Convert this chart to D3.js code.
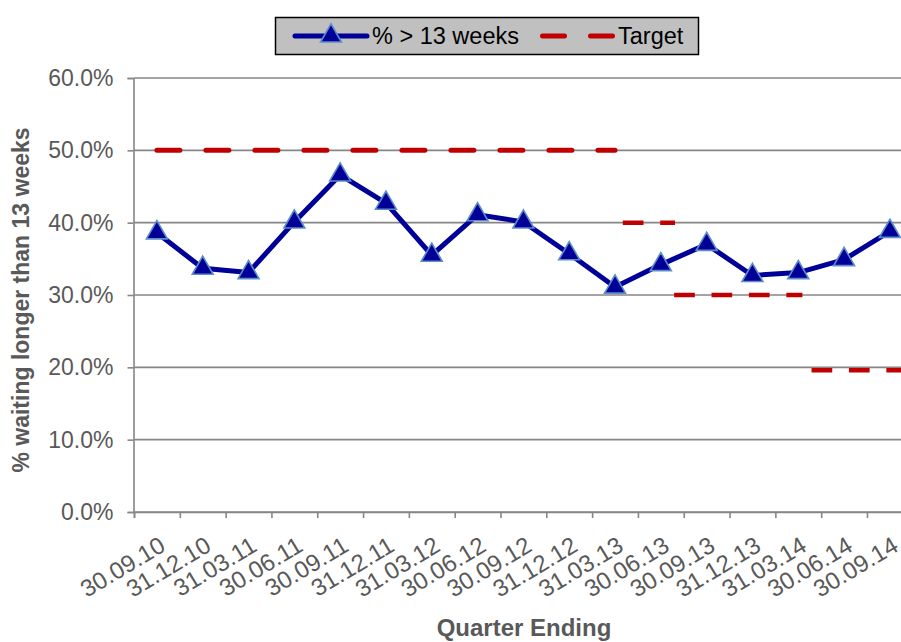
<!DOCTYPE html>
<html>
<head>
<meta charset="utf-8">
<script src="https://cdnjs.cloudflare.com/ajax/libs/d3/7.8.5/d3.min.js"></script>
<style>
  body { margin: 0; background: #fff; }
  svg { display: block; font-family: "Liberation Sans", Arial, sans-serif; }
</style>
</head>
<body>
<svg id="chart" width="901" height="642"></svg>
<script>

var quarters = ["30.09.10", "31.12.10", "31.03.11", "30.06.11", "30.09.11", "31.12.11",
  "31.03.12", "30.06.12", "30.09.12", "31.12.12", "31.03.13", "30.06.13", "30.09.13",
  "31.12.13", "31.03.14", "30.06.14", "30.09.14"]

// % waiting longer than 13 weeks
var pctOver13 = [38.6, 33.7, 33.1, 40.1, 46.6, 42.7, 35.5, 41.1, 40.1, 35.7,
  31.1, 34.2, 37.0, 32.7, 33.1, 34.9, 38.8]

// target steps, start/end given in quarter positions
var targetValues = [50, 40, 30, 19.6]
var targetFrom = [0, 10.17, 11.29, 14.29]
var targetTo = [10, 11.31, 14.09, 16.5]

var yTicks = [0, 10, 20, 30, 40, 50, 60]

var svg = d3.select("#chart")
var plotLeft = 134, plotRight = 912.8, plotTop = 78, plotBottom = 512
var grey = "#595959", gridCol = "#868686"
var navy = "#000099", red = "#C00000"

var x = d3.scaleLinear().domain([-0.5, quarters.length - 0.5]).range([plotLeft, plotRight])
var y = d3.scaleLinear().domain([0, 60]).range([plotBottom, plotTop])

//gridlines
svg.append("g")
  .selectAll("line")
  .data(yTicks)
  .enter()
  .append("line")
  .attr("x1", plotLeft).attr("x2", plotRight)
  .attr("y1", function (d) { return y(d) })
  .attr("y2", function (d) { return y(d) })
  .attr("stroke", gridCol)
  .attr("stroke-width", 1.6)

//y axis
var yAxis = svg.append("g")
  .attr("transform", "translate(" + (plotLeft - 0.5) + ",0)")
  .call(d3.axisLeft(y).tickValues(yTicks).tickSize(6).tickPadding(14)
    .tickFormat(function (d) { return d.toFixed(1) + "%" }))
yAxis.select(".domain").attr("stroke", gridCol).attr("stroke-width", 1.6)
yAxis.selectAll(".tick line").attr("stroke", gridCol).attr("stroke-width", 1.6)
yAxis.selectAll(".tick text")
  .attr("fill", grey)
  .style("font-size", "23px")
  .style("font-family", "'Liberation Sans', Arial, sans-serif")

//x axis, ticks on the category boundaries
var xAxis = svg.append("g")
  .attr("transform", "translate(0," + plotBottom + ")")
  .call(d3.axisBottom(x).tickValues(d3.range(quarters.length + 1).map(function (i) { return i - 0.5 }))
    .tickSize(6).tickFormat(""))
xAxis.select(".domain").attr("stroke", gridCol).attr("stroke-width", 1.6)
xAxis.selectAll(".tick line").attr("stroke", gridCol).attr("stroke-width", 1.6)

svg.append("g")
  .selectAll("text")
  .data(quarters)
  .enter()
  .append("text")
  .attr("transform", function (d, i) {
    return "translate(" + (x(i) + 10) + ",550) rotate(-31)"
  })
  .attr("text-anchor", "end")
  .attr("fill", grey)
  .style("font-size", "24px")
  .text(function (d) { return d })

//target steps
targetValues.forEach(function (v, k) {
  var first = k === 0
  svg.append("line")
    .attr("x1", x(targetFrom[k])).attr("x2", Math.min(x(targetTo[k]), 901))
    .attr("y1", y(v)).attr("y2", y(v))
    .attr("stroke", red)
    .attr("stroke-width", first ? 5 : 4.5)
    .attr("stroke-linecap", first ? "round" : "butt")
    .attr("stroke-dasharray", first ? "23,26" : "20.7,16.7")
})

//main series
var line = d3.line()
  .x(function (d, i) { return x(i) })
  .y(function (d) { return y(d) })

svg.append("path")
  .datum(pctOver13)
  .attr("d", line)
  .attr("fill", "none")
  .attr("stroke", navy)
  .attr("stroke-width", 5)
  .attr("stroke-linejoin", "round")

var tri = d3.symbol().type(d3.symbolTriangle).size(190)

svg.append("g")
  .selectAll("path")
  .data(pctOver13)
  .enter()
  .append("path")
  .attr("d", tri)
  .attr("transform", function (d, i) { return "translate(" + x(i) + "," + y(d) + ")" })
  .attr("fill", navy)
  .attr("stroke", "#5B8DC9")
  .attr("stroke-width", 1.6)

//axis titles
svg.append("text")
  .attr("transform", "translate(29,300) rotate(-90)")
  .attr("text-anchor", "middle")
  .attr("fill", grey)
  .style("font-size", "23px")
  .style("font-weight", "bold")
  .text("% waiting longer than 13 weeks")

svg.append("text")
  .attr("x", 524).attr("y", 636)
  .attr("text-anchor", "middle")
  .attr("fill", grey)
  .style("font-size", "24px")
  .style("font-weight", "bold")
  .text("Quarter Ending")

//legend
var legend = svg.append("g")
legend.append("rect")
  .attr("x", 275.5).attr("y", 17.5)
  .attr("width", 423).attr("height", 37)
  .attr("fill", "#C0C0C0")
  .attr("stroke", "#000")
  .attr("stroke-width", 1.5)

legend.append("line")
  .attr("x1", 295).attr("x2", 367).attr("y1", 36).attr("y2", 36)
  .attr("stroke", navy).attr("stroke-width", 5).attr("stroke-linecap", "round")
legend.append("path")
  .attr("d", tri)
  .attr("transform", "translate(331,36)")
  .attr("fill", navy).attr("stroke", "#5B8DC9").attr("stroke-width", 1.6)
legend.append("text")
  .attr("x", 372).attr("y", 44)
  .style("font-size", "23.5px")
  .text("% > 13 weeks")

legend.append("line")
  .attr("x1", 542.5).attr("x2", 615).attr("y1", 36).attr("y2", 36)
  .attr("stroke", red).attr("stroke-width", 5).attr("stroke-linecap", "round")
  .attr("stroke-dasharray", "22,26")
legend.append("text")
  .attr("x", 618).attr("y", 44)
  .style("font-size", "23.5px")
  .text("Target")

</script>
</body>
</html>
